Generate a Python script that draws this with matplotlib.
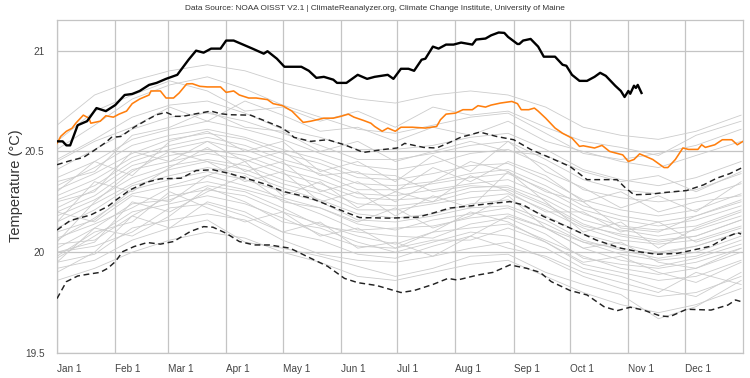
import matplotlib
matplotlib.use("Agg")
import matplotlib.pyplot as plt

plt.rcParams['font.family'] = ['Liberation Sans', 'DejaVu Sans']

# month ticks (day of year)
month_days = [0, 31, 59, 90, 120, 151, 181, 212, 243, 273, 304, 334]
month_labels = ["Jan 1", "Feb 1", "Mar 1", "Apr 1", "May 1", "Jun 1",
                "Jul 1", "Aug 1", "Sep 1", "Oct 1", "Nov 1", "Dec 1"]
y_ticks = [19.5, 20, 20.5, 21]

# past years (grey), sampled every ~20 days
grey_days = [0, 20, 40, 60, 80, 100, 120, 140, 160, 180, 200, 220, 240, 260, 280, 300, 320, 340, 364]
g01 = [19.86, 19.92, 20.00, 20.06, 20.10, 20.07, 20.00, 19.95, 19.88, 19.86, 19.90, 19.94, 19.96, 19.88, 19.80, 19.74, 19.70, 19.74, 19.82]
g02 = [19.92, 19.96, 20.06, 20.12, 20.16, 20.05, 20.02, 19.98, 19.93, 19.88, 19.92, 19.98, 19.99, 19.90, 19.84, 19.79, 19.67, 19.73, 19.86]
g03 = [19.95, 19.99, 20.12, 20.16, 20.19, 20.16, 20.06, 19.99, 19.96, 19.95, 19.98, 20.02, 20.05, 19.97, 19.88, 19.82, 19.78, 19.80, 19.88]
g04 = [20.00, 20.03, 20.10, 20.22, 20.24, 20.18, 20.10, 20.06, 19.99, 19.97, 20.03, 20.08, 20.18, 20.12, 20.05, 20.02, 19.99, 20.03, 20.10]
g05 = [19.97, 20.08, 20.20, 20.24, 20.28, 20.24, 20.17, 20.09, 20.03, 20.02, 20.06, 20.06, 20.12, 20.05, 19.94, 19.90, 19.86, 19.88, 19.96]
g06 = [20.04, 20.06, 20.18, 20.28, 20.31, 20.28, 20.20, 20.14, 20.08, 20.04, 20.10, 20.12, 20.14, 20.06, 19.98, 19.92, 19.89, 19.92, 20.00]
g07 = [20.02, 20.12, 20.24, 20.26, 20.33, 20.30, 20.22, 20.13, 20.10, 20.08, 20.07, 20.14, 20.17, 20.09, 19.97, 19.94, 19.92, 19.95, 20.02]
g08 = [20.07, 20.14, 20.22, 20.32, 20.35, 20.31, 20.26, 20.19, 20.11, 20.12, 20.13, 20.17, 20.19, 20.12, 20.02, 19.96, 19.93, 19.97, 20.04]
g09 = [20.06, 20.17, 20.29, 20.33, 20.38, 20.33, 20.27, 20.22, 20.14, 20.11, 20.16, 20.19, 20.22, 20.14, 20.05, 19.99, 19.96, 19.98, 20.06]
g10 = [20.10, 20.16, 20.31, 20.36, 20.40, 20.36, 20.30, 20.25, 20.16, 20.15, 20.18, 20.22, 20.23, 20.16, 20.06, 20.01, 19.97, 20.00, 20.08]
g11 = [20.12, 20.21, 20.33, 20.38, 20.42, 20.39, 20.32, 20.26, 20.19, 20.17, 20.19, 20.24, 20.26, 20.18, 20.09, 20.04, 20.00, 20.03, 20.10]
g12 = [20.15, 20.24, 20.34, 20.41, 20.45, 20.41, 20.34, 20.29, 20.21, 20.21, 20.24, 20.27, 20.29, 20.21, 20.12, 20.06, 20.04, 20.06, 20.13]
g13 = [20.18, 20.26, 20.37, 20.43, 20.46, 20.43, 20.36, 20.31, 20.24, 20.23, 20.25, 20.30, 20.31, 20.23, 20.13, 20.09, 20.06, 20.08, 20.16]
g14 = [20.20, 20.28, 20.41, 20.45, 20.49, 20.46, 20.39, 20.34, 20.27, 20.26, 20.27, 20.32, 20.33, 20.26, 20.16, 20.11, 20.08, 20.11, 20.18]
g15 = [20.22, 20.31, 20.43, 20.48, 20.51, 20.48, 20.41, 20.36, 20.29, 20.28, 20.31, 20.34, 20.36, 20.28, 20.19, 20.13, 20.11, 20.13, 20.21]
g16 = [20.26, 20.33, 20.45, 20.51, 20.55, 20.51, 20.44, 20.39, 20.31, 20.31, 20.34, 20.37, 20.39, 20.31, 20.21, 20.16, 20.13, 20.16, 20.23]
g17 = [20.28, 20.36, 20.47, 20.53, 20.57, 20.53, 20.46, 20.41, 20.34, 20.33, 20.35, 20.39, 20.41, 20.33, 20.23, 20.18, 20.15, 20.18, 20.26]
g18 = [20.31, 20.39, 20.49, 20.56, 20.59, 20.56, 20.49, 20.44, 20.37, 20.36, 20.39, 20.43, 20.44, 20.36, 20.26, 20.21, 20.18, 20.21, 20.29]
g19 = [20.33, 20.42, 20.53, 20.58, 20.61, 20.57, 20.51, 20.46, 20.39, 20.38, 20.30, 20.33, 20.32, 20.24, 20.14, 20.08, 20.05, 20.08, 20.16]
g20 = [20.37, 20.45, 20.56, 20.61, 20.65, 20.61, 20.56, 20.49, 20.43, 20.41, 20.44, 20.49, 20.51, 20.43, 20.31, 20.27, 20.25, 20.27, 20.34]
g21 = [20.41, 20.51, 20.61, 20.67, 20.69, 20.65, 20.59, 20.53, 20.46, 20.46, 20.49, 20.53, 20.55, 20.46, 20.36, 20.31, 20.29, 20.31, 20.39]
g22 = [20.46, 20.56, 20.67, 20.73, 20.75, 20.69, 20.61, 20.57, 20.51, 20.51, 20.53, 20.57, 20.59, 20.51, 20.41, 20.36, 20.33, 20.37, 20.45]
g23 = [20.51, 20.63, 20.76, 20.83, 20.87, 20.81, 20.73, 20.67, 20.61, 20.59, 20.63, 20.67, 20.69, 20.59, 20.49, 20.46, 20.49, 20.53, 20.61]
g24 = [20.63, 20.78, 20.85, 20.90, 20.93, 20.90, 20.84, 20.80, 20.76, 20.74, 20.78, 20.80, 20.78, 20.72, 20.62, 20.58, 20.56, 20.60, 20.68]
h01 = [19.98, 20.10, 20.15, 20.30, 20.22, 20.15, 20.20, 20.08, 20.12, 20.02, 20.10, 20.20, 20.15, 20.05, 19.95, 19.98, 19.90, 19.85, 19.95]
h02 = [20.20, 20.15, 20.28, 20.25, 20.38, 20.45, 20.28, 20.35, 20.22, 20.30, 20.25, 20.38, 20.30, 20.20, 20.20, 20.10, 20.15, 20.05, 20.12]
h03 = [20.05, 20.25, 20.40, 20.50, 20.45, 20.35, 20.40, 20.25, 20.30, 20.18, 20.28, 20.22, 20.40, 20.25, 20.10, 20.15, 20.02, 20.12, 20.20]
h04 = [20.30, 20.45, 20.38, 20.55, 20.60, 20.50, 20.55, 20.40, 20.45, 20.35, 20.48, 20.40, 20.55, 20.40, 20.32, 20.22, 20.28, 20.20, 20.35]
h05 = [19.90, 20.00, 20.18, 20.12, 20.25, 20.20, 20.10, 20.15, 20.02, 20.05, 19.98, 20.08, 20.02, 19.98, 19.90, 19.85, 19.80, 19.90, 19.84]
h06 = [20.15, 20.35, 20.30, 20.42, 20.52, 20.40, 20.45, 20.30, 20.35, 20.25, 20.35, 20.45, 20.40, 20.30, 20.25, 20.12, 20.10, 20.18, 20.25]
h07 = [20.45, 20.55, 20.62, 20.72, 20.65, 20.75, 20.68, 20.60, 20.62, 20.55, 20.62, 20.58, 20.65, 20.55, 20.50, 20.45, 20.42, 20.48, 20.55]
h08 = [20.00, 20.05, 20.25, 20.20, 20.30, 20.38, 20.25, 20.22, 20.15, 20.22, 20.12, 20.18, 20.28, 20.12, 20.02, 20.05, 19.95, 19.92, 20.02]
h09 = [20.25, 20.30, 20.50, 20.45, 20.55, 20.45, 20.50, 20.38, 20.40, 20.30, 20.42, 20.35, 20.45, 20.38, 20.25, 20.30, 20.20, 20.25, 20.28]
h10 = [20.55, 20.70, 20.78, 20.85, 20.80, 20.70, 20.72, 20.65, 20.70, 20.62, 20.72, 20.68, 20.70, 20.62, 20.55, 20.52, 20.48, 20.58, 20.65]
h11 = [19.95, 20.12, 20.08, 20.18, 20.32, 20.25, 20.15, 20.12, 20.05, 20.00, 20.05, 20.10, 20.08, 20.02, 19.92, 19.88, 19.82, 19.78, 19.90]
h12 = [20.35, 20.40, 20.58, 20.62, 20.70, 20.62, 20.60, 20.50, 20.55, 20.45, 20.50, 20.55, 20.50, 20.48, 20.40, 20.35, 20.38, 20.30, 20.40]
grey_years = [g01, g02, g03, g04, g05, g06, g07, g08, g09, g10, g11, g12,
              g13, g14, g15, g16, g17, g18, g19, g20, g21, g22, g23, g24,
              h01, h02, h03, h04, h05, h06, h07, h08, h09, h10, h11, h12]

# previous year (orange)
prev_days = [0, 2, 5, 8, 10, 14, 17, 18, 23, 26, 30, 33, 37, 40, 44, 49, 50, 55, 58, 62,
             65, 69, 72, 76, 80, 87, 90, 94, 97, 102, 106, 112, 115, 120, 125, 131, 135, 142, 147, 151,
             155, 158, 163, 167, 169, 173, 176, 180, 183, 189, 196, 202, 204, 207, 212, 216, 221, 224, 228, 231,
             236, 242, 245, 247, 251, 254, 256, 260, 265, 269, 274, 278, 280, 286, 290, 294, 301, 304, 307, 310,
             317, 323, 325, 329, 333, 336, 341, 343, 345, 350, 354, 359, 362, 365]
prev_vals = [20.54, 20.575, 20.60, 20.615, 20.64, 20.68, 20.665, 20.64, 20.65, 20.677, 20.67, 20.685, 20.70, 20.737, 20.76, 20.78, 20.80, 20.80, 20.765, 20.765,
             20.79, 20.835, 20.836, 20.823, 20.82, 20.82, 20.793, 20.80, 20.78, 20.765, 20.765, 20.757, 20.737, 20.727, 20.70, 20.644, 20.65, 20.665, 20.665, 20.674,
             20.685, 20.67, 20.654, 20.64, 20.624, 20.60, 20.616, 20.60, 20.62, 20.62, 20.616, 20.624, 20.657, 20.685, 20.69, 20.707, 20.707, 20.727, 20.72, 20.73,
             20.74, 20.748, 20.737, 20.707, 20.707, 20.715, 20.70, 20.665, 20.616, 20.59, 20.566, 20.525, 20.528, 20.517, 20.53, 20.50, 20.483, 20.45, 20.46, 20.488,
             20.46, 20.42, 20.42, 20.46, 20.517, 20.51, 20.51, 20.533, 20.52, 20.533, 20.558, 20.558, 20.533, 20.55]

# current year (black)
cur_days = [0, 3, 5, 7, 11, 16, 21, 26, 31, 36, 40, 44, 49, 53, 58, 64, 66, 70, 74, 78,
            82, 87, 90, 94, 99, 104, 110, 112, 117, 121, 130, 134, 138, 142, 147, 149, 154, 160, 165, 169,
            176, 179, 183, 187, 190, 194, 196, 200, 203, 207, 211, 215, 221, 223, 228, 231, 235, 238, 240, 245,
            246, 248, 252, 256, 259, 265, 269, 271, 274, 278, 282, 286, 289, 292, 297, 300, 302, 304, 305, 307,
            308, 309, 311]
cur_vals = [20.55, 20.55, 20.53, 20.53, 20.63, 20.65, 20.715, 20.70, 20.73, 20.78, 20.785, 20.80, 20.83, 20.84, 20.86, 20.88, 20.905, 20.955, 21.00, 20.99,
            21.01, 21.01, 21.05, 21.05, 21.03, 21.01, 20.985, 20.997, 20.96, 20.92, 20.92, 20.90, 20.865, 20.87, 20.856, 20.84, 20.84, 20.88, 20.86, 20.87,
            20.88, 20.86, 20.91, 20.91, 20.90, 20.955, 20.96, 21.02, 21.01, 21.03, 21.03, 21.04, 21.03, 21.055, 21.06, 21.076, 21.09, 21.088, 21.068, 21.033,
            21.033, 21.05, 21.058, 21.02, 20.97, 20.97, 20.93, 20.925, 20.88, 20.85, 20.85, 20.87, 20.89, 20.875, 20.826, 20.80, 20.77, 20.80, 20.786, 20.826,
            20.815, 20.83, 20.79]

# climatology mean and +/- 2 sigma (dashed)
hi_days = [0, 7, 14, 19, 26, 29, 34, 41, 48, 53, 58, 63, 67, 74, 82, 87, 92, 103, 110, 119,
           124, 126, 135, 144, 153, 163, 174, 181, 185, 195, 202, 209, 215, 220, 225, 234, 243, 252, 262, 273,
           282, 289, 298, 302, 307, 316, 323, 335, 344, 351, 358, 364]
hi_vals = [20.434, 20.454, 20.47, 20.50, 20.545, 20.57, 20.574, 20.62, 20.657, 20.682, 20.694, 20.674, 20.674, 20.687, 20.70, 20.687, 20.682, 20.68, 20.654, 20.62,
           20.59, 20.57, 20.55, 20.558, 20.533, 20.495, 20.51, 20.517, 20.54, 20.52, 20.517, 20.545, 20.571, 20.583, 20.596, 20.574, 20.558, 20.51, 20.47, 20.425,
           20.36, 20.36, 20.36, 20.323, 20.285, 20.288, 20.296, 20.306, 20.334, 20.367, 20.39, 20.417]
mean_days = [0, 7, 18, 27, 32, 39, 48, 55, 66, 74, 83, 92, 103, 112, 121, 128, 135, 144, 154, 161,
             177, 192, 200, 209, 220, 229, 241, 248, 259, 273, 287, 300, 309, 319, 330, 337, 348, 357, 362, 364]
mean_vals = [20.11, 20.157, 20.185, 20.227, 20.263, 20.31, 20.348, 20.364, 20.367, 20.405, 20.409, 20.39, 20.36, 20.334, 20.30, 20.285, 20.268, 20.235, 20.197, 20.172,
             20.169, 20.174, 20.194, 20.219, 20.23, 20.24, 20.251, 20.235, 20.177, 20.12, 20.06, 20.02, 20.003, 19.99, 19.994, 20.008, 20.03, 20.078, 20.097, 20.09]
lo_days = [0, 5, 11, 16, 23, 27, 31, 35, 41, 48, 55, 62, 71, 78, 83, 90, 97, 105, 113, 124,
           135, 144, 153, 160, 170, 183, 190, 200, 208, 213, 224, 232, 241, 250, 257, 263, 273, 282, 291, 298,
           305, 312, 321, 326, 335, 348, 357, 361, 364]
lo_vals = [19.77, 19.854, 19.882, 19.89, 19.90, 19.92, 19.953, 20.003, 20.028, 20.048, 20.04, 20.053, 20.103, 20.127, 20.124, 20.094, 20.053, 20.036, 20.036, 20.02,
           19.97, 19.93, 19.87, 19.849, 19.835, 19.80, 19.81, 19.84, 19.87, 19.862, 19.887, 19.90, 19.937, 19.92, 19.90, 19.854, 19.81, 19.788, 19.73, 19.71,
           19.727, 19.713, 19.684, 19.68, 19.717, 19.713, 19.738, 19.763, 19.755]

fig = plt.figure(figsize=(7.5, 3.78), dpi=100)
ax = fig.add_axes([57 / 750, 25 / 378, 686 / 750, 333 / 378])

grid_c = '#c4c4c4'
for d in month_days:
    ax.axvline(d, color=grid_c, lw=0.9, zorder=0)
for y in y_ticks:
    ax.axhline(y, color=grid_c, lw=0.9, zorder=0)

for g in grey_years:
    ax.plot(grey_days, g, color='#cccccc', lw=0.6, zorder=1)

dash = (0, (4, 2.5))
ax.plot(hi_days, hi_vals, color='#222222', lw=1.05, ls=dash, zorder=3)
ax.plot(mean_days, mean_vals, color='#222222', lw=1.05, ls=dash, zorder=3)
ax.plot(lo_days, lo_vals, color='#222222', lw=1.05, ls=dash, zorder=3)
ax.plot(prev_days, prev_vals, color='#ff7f0e', lw=1.15, zorder=4)
ax.plot(cur_days, cur_vals, color='black', lw=1.7, zorder=5)

ax.set_xlim(0, 365)
ax.set_ylim(19.5, 21.152)
ax.set_xticks(month_days)
ax.set_xticklabels(month_labels, ha='left')
ax.set_yticks(y_ticks)
ax.set_yticklabels(['19.5', '20', '20.5', '21'])
ax.tick_params(length=0, labelsize=7.2, colors='#444444')
ax.tick_params(axis='y', pad=9)
ax.tick_params(axis='x', pad=8)
for s in ax.spines.values():
    s.set_color(grid_c)
    s.set_linewidth(0.9)

fig.text(0.5, 1 - 8 / 378, 'Data Source: NOAA OISST V2.1 | ClimateReanalyzer.org, Climate Change Institute, University of Maine',
         ha='center', va='center', fontsize=5.95, color='#333333')
fig.text(16 / 750, 1 - 186 / 378, 'Temperature (°C)', rotation=90, ha='center', va='center',
         fontsize=10.5, color='#333333')

fig.savefig('out.png', dpi=100)
